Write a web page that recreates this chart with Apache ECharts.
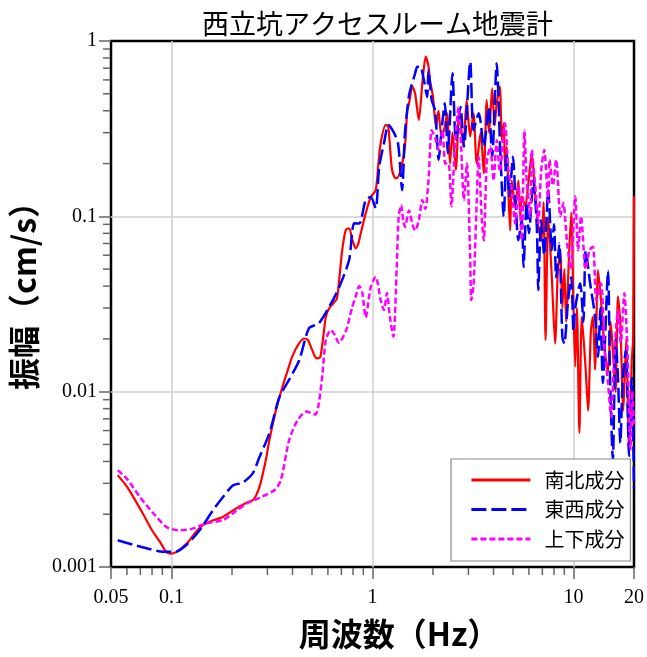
<!DOCTYPE html>
<html><head><meta charset="utf-8">
<script src="https://cdn.jsdelivr.net/npm/echarts@6/dist/echarts.min.js"></script>
<style>html,body{margin:0;padding:0;background:#fff}#c{width:647px;height:657px}</style>
</head><body><div id="c"></div>
<script>
// [frequency Hz, amplitude cm/s]
const nsSpectrum = [[0.054,0.00334],[0.060,0.00287],[0.066,0.00240],[0.072,0.00202],[0.080,0.00162],[0.088,0.00138],[0.094,0.00122],[0.099,0.00119],[0.106,0.00122],[0.119,0.00136],[0.132,0.00158],[0.143,0.00173],[0.160,0.00184],[0.180,0.00193],[0.210,0.00216],[0.235,0.00232],[0.254,0.00241],[0.264,0.00257],[0.275,0.0029],[0.285,0.00342],[0.296,0.0042],[0.307,0.0053],[0.331,0.00785],[0.357,0.0107],[0.380,0.0134],[0.400,0.0160],[0.430,0.0188],[0.457,0.0201],[0.477,0.0197],[0.494,0.0180],[0.515,0.0160],[0.530,0.0155],[0.550,0.0158],[0.570,0.0210],[0.586,0.0267],[0.609,0.0299],[0.640,0.0320],[0.665,0.0340],[0.680,0.0415],[0.707,0.0643],[0.736,0.0835],[0.765,0.0855],[0.794,0.0733],[0.825,0.0657],[0.850,0.0700],[0.874,0.080],[0.925,0.104],[0.980,0.129],[1.037,0.141],[1.070,0.200],[1.098,0.261],[1.162,0.332],[1.197,0.325],[1.225,0.240],[1.250,0.185],[1.290,0.166],[1.320,0.165],[1.390,0.190],[1.450,0.250],[1.490,0.404],[1.520,0.441],[1.580,0.550],[1.630,0.500],[1.700,0.354],[1.770,0.574],[1.840,0.814],[1.900,0.714],[1.930,0.600],[2.000,0.480],[2.070,0.324],[2.130,0.400],[2.200,0.290],[2.270,0.310],[2.350,0.387],[2.430,0.200],[2.500,0.300],[2.600,0.184],[2.700,0.404],[2.830,0.250],[2.940,0.460],[3.060,0.285],[3.180,0.387],[3.300,0.200],[3.450,0.300],[3.580,0.176],[3.700,0.460],[3.800,0.300],[3.940,0.537],[4.050,0.330],[4.150,0.440],[4.300,0.550],[4.400,0.270],[4.500,0.340],[4.560,0.192],[4.650,0.250],[4.750,0.130],[4.840,0.083],[4.930,0.160],[5.130,0.114],[5.320,0.160],[5.430,0.100],[5.530,0.130],[5.750,0.114],[5.960,0.154],[6.200,0.229],[6.450,0.130],[6.680,0.087],[6.940,0.073],[7.100,0.120],[7.260,0.0197],[7.490,0.099],[7.800,0.045],[8.100,0.0188],[8.350,0.047],[8.600,0.064],[8.800,0.030],[9.000,0.050],[9.200,0.025],[9.500,0.060],[9.750,0.105],[10.0,0.030],[10.2,0.0139],[10.4,0.030],[10.7,0.0058],[11.0,0.0268],[11.5,0.0133],[11.82,0.0078],[12.2,0.022],[12.5,0.0268],[12.8,0.0133],[13.25,0.0494],[13.7,0.0333],[14.3,0.0172],[14.85,0.0130],[15.3,0.025],[15.7,0.0172],[16.2,0.010],[16.65,0.035],[17.1,0.0245],[17.7,0.0078],[18.3,0.020],[18.9,0.0047],[19.5,0.015],[19.8,0.020],[20.0,0.130]];
const ewSpectrum = [[0.054,0.00142],[0.0645,0.00134],[0.0752,0.00128],[0.0905,0.00122],[0.104,0.00122],[0.119,0.00134],[0.138,0.00162],[0.161,0.00211],[0.180,0.00250],[0.202,0.00292],[0.226,0.00303],[0.254,0.00343],[0.274,0.00424],[0.307,0.0058],[0.344,0.0093],[0.385,0.0117],[0.432,0.0151],[0.483,0.0230],[0.540,0.0245],[0.609,0.0305],[0.680,0.0390],[0.765,0.0563],[0.810,0.0912],[0.860,0.0910],[0.925,0.124],[0.980,0.129],[1.037,0.111],[1.080,0.192],[1.140,0.261],[1.200,0.332],[1.270,0.304],[1.340,0.261],[1.404,0.141],[1.450,0.300],[1.516,0.481],[1.540,0.525],[1.630,0.654],[1.670,0.713],[1.730,0.714],[1.800,0.600],[1.870,0.480],[1.900,0.683],[1.970,0.460],[2.050,0.400],[2.134,0.210],[2.200,0.300],[2.290,0.441],[2.370,0.229],[2.500,0.654],[2.600,0.270],[2.740,0.420],[2.850,0.250],[3.064,0.762],[3.180,0.310],[3.380,0.387],[3.580,0.250],[3.790,0.420],[3.940,0.219],[4.150,0.746],[4.230,0.500],[4.300,0.272],[4.500,0.100],[4.640,0.229],[4.800,0.130],[5.000,0.219],[5.150,0.120],[5.320,0.073],[5.530,0.0955],[5.640,0.0514],[5.850,0.120],[6.000,0.080],[6.320,0.160],[6.570,0.087],[6.680,0.038],[6.900,0.095],[7.150,0.060],[7.490,0.141],[7.800,0.064],[8.000,0.090],[8.200,0.045],[8.500,0.070],[8.800,0.0205],[9.000,0.0188],[9.400,0.0333],[9.750,0.045],[10.0,0.022],[10.2,0.030],[10.8,0.0415],[11.2,0.025],[11.5,0.064],[12.1,0.0415],[12.8,0.0268],[13.25,0.0158],[13.6,0.030],[14.0,0.0112],[14.85,0.049],[15.2,0.012],[15.7,0.00407],[16.2,0.020],[16.65,0.012],[17.1,0.0051],[17.6,0.012],[18.2,0.0172],[18.9,0.0043],[19.5,0.012],[20.0,0.0028]];
const udSpectrum = [[0.054,0.00357],[0.060,0.00318],[0.0698,0.0025],[0.0814,0.00202],[0.0944,0.00169],[0.109,0.00162],[0.126,0.00165],[0.148,0.00177],[0.180,0.00185],[0.202,0.00202],[0.236,0.00230],[0.274,0.00248],[0.326,0.00275],[0.350,0.00313],[0.385,0.0053],[0.424,0.00688],[0.470,0.0077],[0.520,0.0074],[0.540,0.0085],[0.564,0.0127],[0.586,0.0197],[0.620,0.0225],[0.650,0.0210],[0.680,0.0190],[0.740,0.0225],[0.790,0.0300],[0.825,0.0349],[0.860,0.0400],[0.890,0.0365],[0.925,0.0265],[0.980,0.0396],[1.037,0.0452],[1.098,0.0333],[1.140,0.0292],[1.180,0.0365],[1.220,0.0267],[1.270,0.0206],[1.320,0.0515],[1.350,0.100],[1.390,0.116],[1.420,0.095],[1.450,0.087],[1.520,0.108],[1.580,0.090],[1.630,0.083],[1.700,0.095],[1.770,0.124],[1.830,0.110],[1.900,0.161],[1.970,0.310],[2.050,0.280],[2.130,0.239],[2.230,0.310],[2.300,0.200],[2.390,0.200],[2.470,0.114],[2.570,0.250],[2.680,0.420],[2.760,0.250],[2.850,0.124],[2.950,0.200],[3.060,0.060],[3.100,0.0333],[3.180,0.0400],[3.250,0.073],[3.300,0.124],[3.370,0.219],[3.500,0.095],[3.580,0.073],[3.700,0.200],[3.850,0.250],[4.000,0.160],[4.150,0.272],[4.300,0.180],[4.560,0.339],[4.750,0.180],[4.930,0.141],[5.130,0.091],[5.320,0.150],[5.530,0.073],[5.700,0.310],[5.850,0.160],[6.100,0.100],[6.200,0.239],[6.450,0.150],[6.680,0.091],[6.900,0.180],[7.150,0.239],[7.490,0.120],[7.600,0.210],[7.900,0.150],[8.200,0.210],[8.600,0.100],[8.900,0.119],[9.300,0.070],[9.700,0.050],[10.2,0.130],[10.55,0.064],[10.9,0.100],[11.5,0.050],[12.0,0.064],[12.5,0.067],[13.0,0.0333],[13.7,0.0415],[14.3,0.0172],[14.85,0.0112],[15.4,0.0072],[16.0,0.0172],[16.65,0.0292],[17.2,0.0190],[17.9,0.0364],[18.5,0.0190],[19.2,0.0047],[19.6,0.010],[20.0,0.0065]];

const seriesNames = ['南北成分', '東西成分', '上下成分'];
const xMinorTicks = [0.06,0.07,0.08,0.09,0.2,0.3,0.4,0.5,0.6,0.7,0.8,0.9,2,3,4,5,6,7,8,9];
const yMinorTicks = [0.002,0.003,0.004,0.005,0.006,0.007,0.008,0.009,0.02,0.03,0.04,0.05,0.06,0.07,0.08,0.09,0.2,0.3,0.4,0.5,0.6,0.7,0.8,0.9];
const xMin = 0.05, xMax = 20, yMin = 0.001, yMax = 1;

const serif = '"Liberation Serif","Times New Roman",serif';
const cjk = '"Noto Sans CJK JP","Noto Sans",sans-serif';
const tickColor = '#666';

const chart = echarts.init(document.getElementById('c'), null, {renderer: 'canvas'});

function minorTickSeries(values, isX) {
  return {
    type: 'custom', silent: true, clip: false, z: 5,
    data: values.map(v => isX ? [v, yMin] : [xMin, v]),
    renderItem: function (params, api) {
      const p = api.coord([api.value(0), api.value(1)]);
      const shape = isX ? {x1: p[0], y1: p[1] + 1, x2: p[0], y2: p[1] + 8}
                        : {x1: p[0] - 8, y1: p[1], x2: p[0] - 1, y2: p[1]};
      return {type: 'line', shape: shape, style: {stroke: tickColor, lineWidth: 1.5}};
    }
  };
}

const fmt = v => String(parseFloat(Number(v).toPrecision(4)));

chart.setOption({
  animation: false,
  backgroundColor: '#fff',
  title: {
    text: '西立坑アクセスルーム地震計',
    left: 202, top: 10, padding: 0,
    textStyle: {fontFamily: cjk, fontSize: 27, fontWeight: 'normal', color: '#000'}
  },
  grid: {left: 111, right: 11, top: 41, bottom: 90, show: true, borderColor: '#000', borderWidth: 2.5, backgroundColor: 'transparent'},
  legend: {
    data: seriesNames,
    orient: 'vertical',
    left: 451, top: 459,
    padding: [10, 6, 11, 19],
    itemGap: 7.5,
    itemWidth: 59, itemHeight: 14,
    backgroundColor: '#fff',
    borderColor: '#888', borderWidth: 1.2,
    itemStyle: {color: 'transparent', borderColor: 'transparent', borderWidth: 0},
    lineStyle: {width: 2.8},
    textStyle: {fontFamily: cjk, fontSize: 20, color: '#000', lineHeight: 22, padding: [0, 0, 0, 9]}
  },
  xAxis: {
    type: 'log', logBase: 10, min: xMin, max: xMax,
    name: '周波数（Hz）', nameLocation: 'middle', nameGap: 51,
    nameTextStyle: {fontFamily: cjk, fontSize: 32, fontWeight: 'bold', color: '#000', padding: [0, 0, 0, 53]},
    axisLine: {show: false},
    axisTick: {show: true, inside: false, length: 12, lineStyle: {color: tickColor, width: 1.5}},
    minorTick: {show: false},
    axisLabel: {fontFamily: serif, fontSize: 20, color: '#000', margin: 21, formatter: fmt, showMinLabel: true, showMaxLabel: true},
    splitLine: {show: true, showMinLine: false, showMaxLine: false, lineStyle: {color: '#cfcfcf', width: 1.5}}
  },
  yAxis: {
    type: 'log', logBase: 10, min: yMin, max: yMax,
    name: '振幅（cm/s）', nameLocation: 'middle', nameGap: 71, nameRotate: 90,
    nameTextStyle: {fontFamily: cjk, fontSize: 32, fontWeight: 'bold', color: '#000', padding: [0, 0, 0, 32]},
    axisLine: {show: false},
    axisTick: {show: true, inside: false, length: 12, lineStyle: {color: tickColor, width: 1.5}},
    minorTick: {show: false},
    axisLabel: {fontFamily: serif, fontSize: 20, color: '#000', margin: 14, formatter: fmt, showMinLabel: true, showMaxLabel: true},
    splitLine: {show: true, showMinLine: false, showMaxLine: false, lineStyle: {color: '#cfcfcf', width: 1.5}}
  },
  series: [
    {name: seriesNames[0], type: 'line', data: nsSpectrum, showSymbol: false, symbol: 'none', smooth: 0.25, z: 2,
     lineStyle: {color: '#ff0000', width: 2.2, type: 'solid'}, itemStyle: {color: '#ff0000'}},
    {name: seriesNames[1], type: 'line', data: ewSpectrum, showSymbol: false, symbol: 'none', smooth: 0.25, z: 3,
     lineStyle: {color: '#0000ff', width: 2.5, type: [15, 5]}, itemStyle: {color: '#0000ff'}},
    {name: seriesNames[2], type: 'line', data: udSpectrum, showSymbol: false, symbol: 'none', smooth: 0.25, z: 4,
     lineStyle: {color: '#ff00ff', width: 2.5, type: [6, 3]}, itemStyle: {color: '#ff00ff'}},
    minorTickSeries(xMinorTicks, true),
    minorTickSeries(yMinorTicks, false)
  ]
});
</script></body></html>
